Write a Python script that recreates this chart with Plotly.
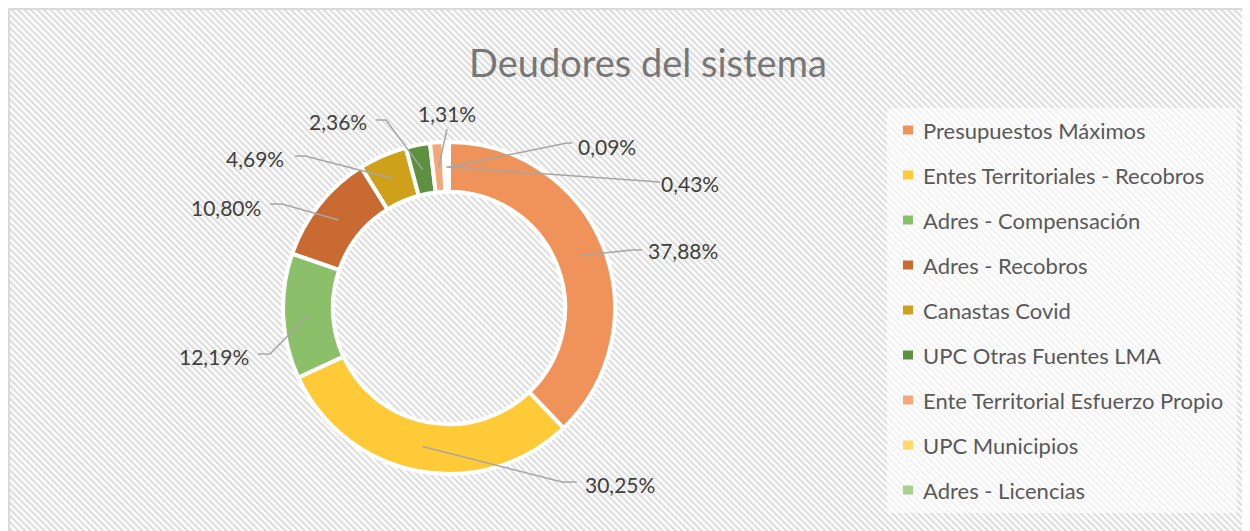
import math
import base64
import plotly.graph_objects as go

# ---------------- data ----------------
categories = [
    "Presupuestos Máximos",
    "Entes Territoriales - Recobros",
    "Adres - Compensación",
    "Adres - Recobros",
    "Canastas Covid",
    "UPC Otras Fuentes LMA",
    "Ente Territorial Esfuerzo Propio",
    "UPC Municipios",
    "Adres - Licencias",
]
shares = [37.88, 30.25, 12.19, 10.80, 4.69, 2.36, 1.31, 0.43, 0.09]
title_text = "Deudores del sistema"

# ---------------- styles ----------------
colors = ["#F0935A", "#FFCA38", "#8CBF6A", "#C86A31", "#CFA11A",
          "#5E913F", "#F4A877", "#FFD966", "#A9D18E"]
FONT = "Lato"

# frame (reference pixel coordinates; figure sits at offset OFF)
W, H = 1250, 531
OFF = 8
FW, FH = W - OFF, H - OFF
CX, CY, R = 449, 308, 166
HOLE = 0.70


def px(X):
    return (X - OFF) / FW


def py(Y):
    return 1 - (Y - OFF) / FH


# label placement: (elbow, end, text x, text y, xanchor)
label_layout = [
    ((632, 250), (642, 250), 646, 250, "left"),
    ((562, 482), (577, 482), 583, 484, "left"),
    ((270, 354), (258, 354), 251, 356, "right"),
    ((282, 204), (270, 204), 263, 207, "right"),
    ((305, 156), (295, 156), 286, 158, "right"),
    ((386, 120), (376, 120), 369, 121, "right"),
    ((447, 129), (447, 129), 447, 113, "center"),
    ((660, 182), (655, 182), 659, 183, "left"),
    ((567, 143), (572, 143), 576, 146, "left"),
]

# ---------------- figure ----------------
fig = go.Figure()
fig.add_trace(go.Pie(
    labels=categories, values=shares, sort=False, direction="clockwise",
    rotation=0, hole=HOLE, textinfo="none", showlegend=False,
    marker=dict(colors=colors, line=dict(color="white", width=4)),
    domain=dict(x=[px(CX - R), px(CX + R)], y=[py(CY + R), py(CY - R)]),
))
fig.add_trace(go.Scatter(x=[None], y=[None], showlegend=False, hoverinfo="skip"))

# anchors on the ring computed from the data
total = sum(shares)
rm = R * (1 + HOLE) / 2
anchors = []
cum = 0.0
for v in shares:
    a = (cum + v / 2) / total * 2 * math.pi
    cum += v
    anchors.append((CX + rm * math.sin(a), CY - rm * math.cos(a)))

shapes = []
annotations = []

# border of chart area
shapes.append(dict(type="line", xref="x", yref="y", x0=9, x1=W, y0=9, y1=9,
                   line=dict(color="#d9d9d9", width=2), layer="above"))
shapes.append(dict(type="line", xref="x", yref="y", x0=9, x1=9, y0=9, y1=H,
                   line=dict(color="#d9d9d9", width=2), layer="above"))

# legend box
shapes.append(dict(type="rect", xref="x", yref="y", x0=887, x1=1237, y0=108, y1=513,
                   fillcolor="rgba(255,255,255,0.6)", line=dict(width=0), layer="below"))

for (ax, ay), (el, en, tx, ty, anc), v in zip(anchors, label_layout, shares):
    shapes.append(dict(
        type="path", xref="x", yref="y", layer="above",
        path=f"M {ax:.1f} {ay:.1f} L {el[0]} {el[1]} L {en[0]} {en[1]}",
        line=dict(color="#a6a6a6", width=1.5),
    ))
    annotations.append(dict(
        x=tx, y=ty, xref="x", yref="y", showarrow=False, xanchor=anc, yanchor="middle",
        text=f"{v:.2f}".replace(".", ",") + "%",
        font=dict(family=FONT, size=21, color="#404040"),
    ))

# legend (manual, to match spacing)
LEG_X, LEG_Y0, LEG_DY = 903, 130, 45
for i, (name, c) in enumerate(zip(categories, colors)):
    yy = LEG_Y0 + i * LEG_DY
    shapes.append(dict(type="rect", xref="x", yref="y", x0=LEG_X, x1=LEG_X + 10,
                       y0=yy - 4.5, y1=yy + 4.5, fillcolor=c, line=dict(width=0),
                       layer="above"))
    annotations.append(dict(
        x=LEG_X + 18, y=yy, xref="x", yref="y", showarrow=False, xanchor="left",
        yanchor="middle", text=name, font=dict(family=FONT, size=22, color="#595959"),
    ))

# title
annotations.append(dict(
    x=647.5, y=62, xref="x", yref="y", showarrow=False, xanchor="center",
    yanchor="middle", text=title_text, font=dict(family=FONT, size=38, color="#777777"),
))

# hatched background
svg = (
    f'<svg xmlns="http://www.w3.org/2000/svg" width="{FW}" height="{FH}" '
    f'viewBox="0 0 {FW} {FH}"><defs><pattern id="h" width="4.6" height="4.6" '
    f'patternUnits="userSpaceOnUse" patternTransform="rotate(-45)">'
    f'<rect width="2.3" height="4.6" fill="#dedede"/></pattern></defs>'
    f'<rect width="100%" height="100%" fill="#ffffff"/>'
    f'<rect width="100%" height="100%" fill="url(#h)"/></svg>'
)
src = "data:image/svg+xml;base64," + base64.b64encode(svg.encode()).decode()

fig.update_layout(
    width=FW, height=FH,
    margin=dict(l=0, r=0, t=0, b=0),
    paper_bgcolor="white", plot_bgcolor="rgba(0,0,0,0)",
    xaxis=dict(range=[OFF, W], visible=False, fixedrange=True),
    yaxis=dict(range=[H, OFF], visible=False, fixedrange=True),
    images=[dict(source=src, xref="paper", yref="paper", x=0, y=1, sizex=1, sizey=1,
                 xanchor="left", yanchor="top", sizing="stretch", layer="below")],
    shapes=shapes, annotations=annotations, showlegend=False,
)

fig.write_html("out.html")
